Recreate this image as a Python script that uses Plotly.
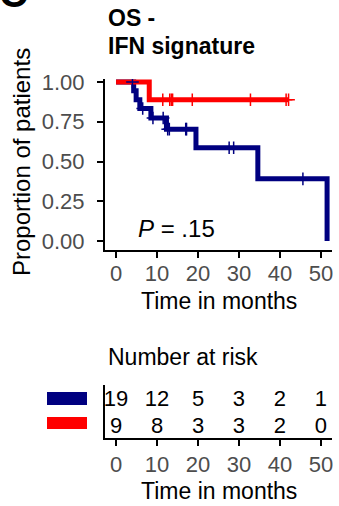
import plotly.graph_objects as go

# ---------------- data ----------------
# High IFN signature group (blue, n=19)
blue_event_times = [4.3, 4.9, 5.8, 8.5, 12.3, 19.5, 34.6, 51.5]
blue_censor_times = [4.0, 6.5, 9.0, 11.5, 12.6, 13.0, 17.0, 17.2, 27.6, 28.7, 45.6]
# Low IFN signature group (red, n=9)
red_event_times = [8.1]
red_censor_times = [11.4, 13.1, 13.5, 13.8, 18.6, 32.8, 41.5, 42.1]

risk_times = [0, 10, 20, 30, 40, 50]
blue_at_risk = [19, 12, 5, 3, 2, 1]
red_at_risk = [9, 8, 3, 3, 2, 0]

y_ticks = [0, 0.25, 0.5, 0.75, 1.0]
y_tick_labels = ["0.00", "0.25", "0.50", "0.75", "1.00"]
x_ticks = [0, 10, 20, 30, 40, 50]

title_lines = ["OS -", "IFN signature"]
p_text = "<i>P</i> = .15"

BLUE = "#000080"
RED = "#FF0000"
W, H = 339, 506
FONT = "Liberation Sans, Arial, sans-serif"
TICK = 22


def km(event_times, censor_times):
    recs = sorted([(t, 1) for t in event_times] + [(t, 0) for t in censor_times])
    n = len(recs)
    s = 1.0
    xs, ys = [0.0], [1.0]
    cx, cy = [], []
    for t, e in recs:
        if e == 1:
            s = s * (n - 1) / n
            xs.append(t)
            ys.append(s)
        else:
            cx.append(t)
            cy.append(s)
        n -= 1
    if xs[-1] < recs[-1][0]:
        xs.append(recs[-1][0])
        ys.append(s)
    return xs, ys, cx, cy


def px_x(p):
    return p / W


def px_y(p):
    return 1 - p / H


bx, by, bcx, bcy = km(blue_event_times, blue_censor_times)
rx, ry, rcx, rcy = km(red_event_times, red_censor_times)

fig = go.Figure()
fig.add_trace(go.Scatter(x=bx, y=by, mode="lines", line=dict(color=BLUE, width=5, shape="hv"),
                         xaxis="x", yaxis="y", showlegend=False))
fig.add_trace(go.Scatter(x=rx, y=ry, mode="lines", line=dict(color=RED, width=5, shape="hv"),
                         xaxis="x", yaxis="y", showlegend=False))
fig.add_trace(go.Scatter(x=rcx, y=rcy, mode="markers",
                         marker=dict(symbol="cross-thin", size=9, line=dict(color=RED, width=1.5)),
                         xaxis="x", yaxis="y", showlegend=False))
fig.add_trace(go.Scatter(x=bcx, y=bcy, mode="markers",
                         marker=dict(symbol="cross-thin", size=9, line=dict(color=BLUE, width=1.5)),
                         xaxis="x", yaxis="y", showlegend=False))

# risk table
fig.add_trace(go.Scatter(x=risk_times, y=[2] * len(risk_times), mode="text",
                         text=[str(v) for v in blue_at_risk],
                         textfont=dict(family=FONT, size=TICK, color="black"),
                         xaxis="x2", yaxis="y2", showlegend=False, cliponaxis=False))
fig.add_trace(go.Scatter(x=risk_times, y=[1] * len(risk_times), mode="text",
                         text=[str(v) for v in red_at_risk],
                         textfont=dict(family=FONT, size=TICK, color="black"),
                         xaxis="x2", yaxis="y2", showlegend=False, cliponaxis=False))

xdom = [px_x(105), px_x(332)]
axis_common = dict(showgrid=False, zeroline=False, showline=True, linecolor="black", linewidth=2,
                   ticks="outside", ticklen=6, tickwidth=2, tickcolor="black",
                   tickfont=dict(family=FONT, size=TICK, color="#4d4d4d"))

fig.update_layout(
    width=W, height=H, margin=dict(l=0, r=0, t=0, b=0, autoexpand=False),
    paper_bgcolor="white", plot_bgcolor="white",
    xaxis=dict(domain=xdom, range=[-2.7, 52.7], tickvals=x_ticks, anchor="y",
               ticklabelstandoff=-3, **axis_common),
    yaxis=dict(domain=[px_y(250), px_y(79)], range=[-0.0566, 1.019], tickvals=y_ticks,
               ticktext=y_tick_labels, anchor="x", ticklabelstandoff=8, **axis_common),
    xaxis2=dict(domain=xdom, range=[-2.7, 52.7], tickvals=x_ticks, anchor="y2",
                ticklabelstandoff=0, **axis_common),
    yaxis2=dict(domain=[px_y(438), px_y(385)], range=[0.593, 2.555], anchor="x2",
                showgrid=False, zeroline=False, showline=True, linecolor="black", linewidth=2,
                showticklabels=False, ticks=""),
)

ann = []
ann.append(dict(text="<b>C</b>", x=px_x(-3), y=px_y(17), xref="paper", yref="paper",
                xanchor="left", yanchor="bottom", showarrow=False,
                font=dict(family=FONT, size=40, color="black")))
ann.append(dict(text="<b>%s</b>" % title_lines[0], x=px_x(106), y=px_y(18), xref="paper", yref="paper",
                xanchor="left", yanchor="middle", showarrow=False,
                font=dict(family=FONT, size=23, color="black")))
ann.append(dict(text="<b>%s</b>" % title_lines[1], x=px_x(106), y=px_y(45.5), xref="paper", yref="paper",
                xanchor="left", yanchor="middle", showarrow=False,
                font=dict(family=FONT, size=23, color="black")))
ann.append(dict(text="Proportion of patients", x=px_x(22), y=px_y(162), xref="paper", yref="paper",
                xanchor="center", yanchor="middle", textangle=-90, showarrow=False,
                font=dict(family=FONT, size=24, color="black")))
ann.append(dict(text="Time in months", x=px_x(219), y=px_y(301), xref="paper", yref="paper",
                xanchor="center", yanchor="middle", showarrow=False,
                font=dict(family=FONT, size=23, color="black")))
ann.append(dict(text="Number at risk", x=px_x(106), y=px_y(357), xref="paper", yref="paper",
                xanchor="left", yanchor="middle", showarrow=False,
                font=dict(family=FONT, size=23, color="black")))
ann.append(dict(text="Time in months", x=px_x(219), y=px_y(491), xref="paper", yref="paper",
                xanchor="center", yanchor="middle", showarrow=False,
                font=dict(family=FONT, size=23, color="black")))
ann.append(dict(text=p_text, x=4.9, y=0.08, xref="x", yref="y",
                xanchor="left", yanchor="middle", showarrow=False,
                font=dict(family=FONT, size=24, color="black")))
fig.update_layout(annotations=ann)

fig.update_layout(shapes=[
    dict(type="rect", xref="paper", yref="paper", x0=px_x(47), x1=px_x(87), y0=px_y(405), y1=px_y(392),
         fillcolor=BLUE, line=dict(width=0)),
    dict(type="rect", xref="paper", yref="paper", x0=px_x(47), x1=px_x(87), y0=px_y(429), y1=px_y(417),
         fillcolor=RED, line=dict(width=0)),
])

fig.write_html("out.html", config={"displayModeBar": False},
               post_script="document.body.style.margin='0';document.body.style.overflow='hidden';")
